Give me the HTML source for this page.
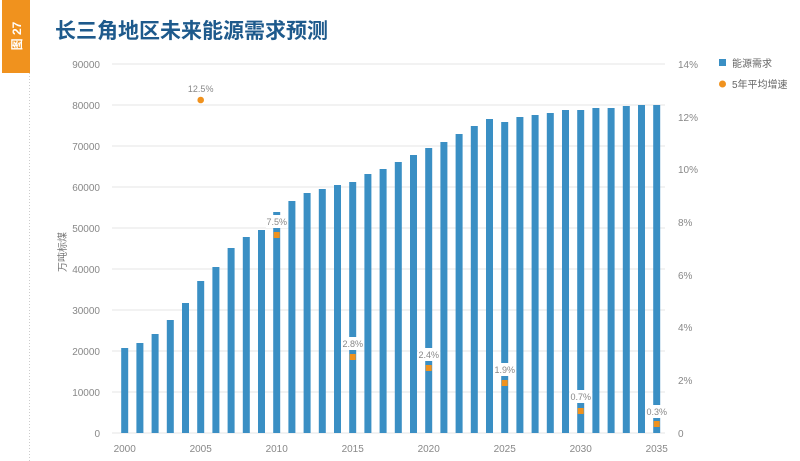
<!DOCTYPE html>
<html><head><meta charset="utf-8"><style>
html,body{margin:0;padding:0;background:#fff;}
svg{display:block;}
text{font-family:"Liberation Sans","Noto Sans CJK SC",sans-serif;}
</style></head><body>
<svg width="800" height="461" viewBox="0 0 800 461" xmlns="http://www.w3.org/2000/svg">
<rect x="0" y="0" width="800" height="461" fill="#fff"/>
<rect x="2" y="0" width="28" height="73" fill="#f0921e"/>
<text transform="translate(21,36) rotate(-90)" text-anchor="middle" font-size="12" font-weight="bold" fill="#fff">图 27</text>
<line x1="29.5" y1="73" x2="29.5" y2="461" stroke="#ccc" stroke-dasharray="1,2"/>
<text x="55" y="38" font-size="21" font-weight="bold" fill="#1e5a8c" style="font-family:'Noto Sans CJK SC',sans-serif">长三角地区未来能源需求预测</text>
<g stroke="#e6e6e6" stroke-width="1">
<line x1="112" y1="64" x2="665" y2="64"/><line x1="112" y1="105" x2="665" y2="105"/><line x1="112" y1="146" x2="665" y2="146"/><line x1="112" y1="187" x2="665" y2="187"/><line x1="112" y1="228" x2="665" y2="228"/><line x1="112" y1="269" x2="665" y2="269"/><line x1="112" y1="310" x2="665" y2="310"/><line x1="112" y1="351" x2="665" y2="351"/><line x1="112" y1="392" x2="665" y2="392"/><line x1="112" y1="433" x2="665" y2="433"/>
</g>
<g font-size="10" fill="#888" text-anchor="end">
<text x="100" y="68">90000</text><text x="100" y="109">80000</text><text x="100" y="150">70000</text><text x="100" y="191">60000</text><text x="100" y="232">50000</text><text x="100" y="273">40000</text><text x="100" y="314">30000</text><text x="100" y="355">20000</text><text x="100" y="396">10000</text><text x="100" y="437">0</text>
</g>
<g font-size="10" fill="#888">
<text x="678" y="68">14%</text><text x="678" y="121">12%</text><text x="678" y="173">10%</text><text x="678" y="226">8%</text><text x="678" y="279">6%</text><text x="678" y="331">4%</text><text x="678" y="384">2%</text><text x="678" y="437">0</text>
</g>
<text transform="translate(66,252) rotate(-90)" text-anchor="middle" font-size="10" fill="#777">万吨标煤</text>
<g font-size="10" fill="#888" text-anchor="middle">
<text x="124.7" y="452">2000</text><text x="200.7" y="452">2005</text><text x="276.7" y="452">2010</text><text x="352.7" y="452">2015</text><text x="428.7" y="452">2020</text><text x="504.7" y="452">2025</text><text x="580.7" y="452">2030</text><text x="656.7" y="452">2035</text>
</g>
<g fill="#3a8fc4">
<rect x="121.2" y="348" width="7" height="85"/><rect x="136.4" y="343" width="7" height="90"/><rect x="151.6" y="334" width="7" height="99"/><rect x="166.8" y="320" width="7" height="113"/><rect x="182" y="303" width="7" height="130"/><rect x="197.2" y="281" width="7" height="152"/><rect x="212.4" y="267" width="7" height="166"/><rect x="227.6" y="248" width="7" height="185"/><rect x="242.8" y="237" width="7" height="196"/><rect x="258" y="230" width="7" height="203"/><rect x="273.2" y="212" width="7" height="221"/><rect x="288.4" y="201" width="7" height="232"/><rect x="303.6" y="193" width="7" height="240"/><rect x="318.8" y="189" width="7" height="244"/><rect x="334" y="185" width="7" height="248"/><rect x="349.2" y="182" width="7" height="251"/><rect x="364.4" y="174" width="7" height="259"/><rect x="379.6" y="169" width="7" height="264"/><rect x="394.8" y="162" width="7" height="271"/><rect x="410" y="155" width="7" height="278"/><rect x="425.2" y="148" width="7" height="285"/><rect x="440.4" y="142" width="7" height="291"/><rect x="455.6" y="134" width="7" height="299"/><rect x="470.8" y="126" width="7" height="307"/><rect x="486" y="119" width="7" height="314"/><rect x="501.2" y="122" width="7" height="311"/><rect x="516.4" y="117" width="7" height="316"/><rect x="531.6" y="115" width="7" height="318"/><rect x="546.8" y="113" width="7" height="320"/><rect x="562" y="110" width="7" height="323"/><rect x="577.2" y="110" width="7" height="323"/><rect x="592.4" y="108" width="7" height="325"/><rect x="607.6" y="108" width="7" height="325"/><rect x="622.8" y="106" width="7" height="327"/><rect x="638" y="105" width="7" height="328"/><rect x="653.2" y="105" width="7" height="328"/>
</g>
<g fill="#fff">
<rect x="266" y="215" width="22" height="13"/><rect x="342" y="337" width="22" height="13"/><rect x="418" y="348" width="22" height="13"/><rect x="494" y="363" width="22" height="13"/><rect x="570" y="390" width="22" height="13"/><rect x="646" y="405" width="22" height="13"/>
</g>
<g font-size="9" fill="#888" text-anchor="middle">
<text x="200.7" y="92">12.5%</text><text x="276.7" y="225">7.5%</text><text x="352.7" y="347">2.8%</text><text x="428.7" y="358">2.4%</text><text x="504.7" y="373">1.9%</text><text x="580.7" y="400">0.7%</text><text x="656.7" y="415">0.3%</text>
</g>
<g fill="#f0921e">
<circle cx="200.7" cy="100" r="3.3"/><rect x="273.7" y="232" width="6" height="6"/><rect x="349.7" y="354" width="6" height="6"/><rect x="425.7" y="365" width="6" height="6"/><rect x="501.7" y="380" width="6" height="6"/><rect x="577.7" y="408" width="6" height="6"/><rect x="653.7" y="421" width="6" height="6"/>
</g>
<rect x="719" y="59" width="7" height="7" fill="#3a8fc4"/>
<circle cx="722.5" cy="84" r="3.5" fill="#f0921e"/>
<g font-size="10" fill="#666">
<text x="732" y="67">能源需求</text><text x="732" y="88">5年平均增速</text>
</g>
</svg>
</body></html>
